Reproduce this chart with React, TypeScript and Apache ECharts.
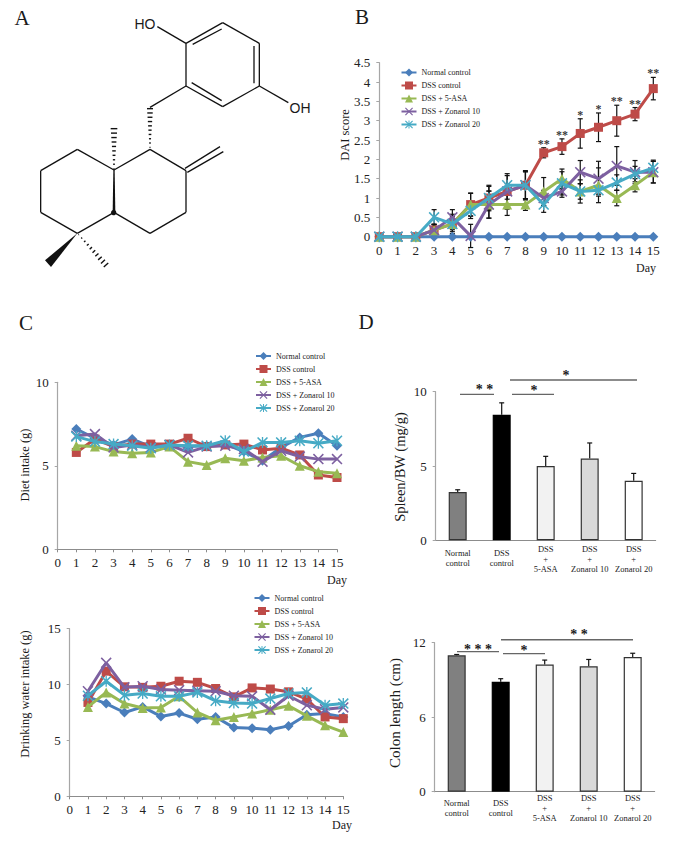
import React, { useEffect, useRef } from "react";
import * as echarts from "echarts";

const groups = ["Normal control", "DSS control", "DSS + 5-ASA", "DSS + Zonarol 10", "DSS + Zonarol 20"];
const daysB = [0, 1, 2, 3, 4, 5, 6, 7, 8, 9, 10, 11, 12, 13, 14, 15];
const daysIntake = [1, 2, 3, 4, 5, 6, 7, 8, 9, 10, 11, 12, 13, 14, 15];

// Panel B: DAI score
const daiNormal = [0, 0, 0, 0, 0, 0, 0, 0, 0, 0, 0, 0, 0, 0, 0, 0];
const daiDss = [0, 0, 0, 0.17, 0.33, 0.83, 1.0, 1.17, 1.33, 2.17, 2.33, 2.67, 2.83, 3.0, 3.17, 3.83];
const daiAsa = [0, 0, 0, 0.17, 0.33, 0.83, 0.83, 0.83, 0.83, 1.17, 1.5, 1.17, 1.33, 1.0, 1.33, 1.67];
const daiZ10 = [0, 0, 0, 0.17, 0.5, 0.02, 0.83, 1.17, 1.33, 1.0, 1.17, 1.67, 1.5, 1.83, 1.67, 1.67];
const daiZ20 = [0, 0, 0, 0.5, 0.33, 0.67, 1.0, 1.33, 1.33, 0.83, 1.38, 1.17, 1.2, 1.4, 1.62, 1.78];
const daiDssErr = [0, 0, 0, 0.15, 0.25, 0.29, 0.33, 0.46, 0.38, 0.13, 0.2, 0.38, 0.37, 0.4, 0.17, 0.29];
const daiAsaErr = [0, 0, 0, 0.15, 0.2, 0.3, 0.35, 0.28, 0.15, 0.36, 0.25, 0.3, 0.45, 0.2, 0.17, 0.28];
const daiZ10Err = [0, 0, 0, 0.15, 0.2, 0.3, 0.35, 0.2, 0.35, 0.2, 0.15, 0.3, 0.45, 0.5, 0.3, 0.28];
const daiZ20Err = [0, 0, 0, 0.2, 0.15, 0.2, 0.3, 0.25, 0.35, 0.2, 0.3, 0.2, 0.1, 0.2, 0.2, 0.2];
const daiStarDays = [9, 10, 11, 12, 13, 14, 15];
const daiStarTops = [2.3, 2.53, 3.05, 3.2, 3.4, 3.33, 4.12];
const daiStarText = ["**", "**", "*", "*", "**", "**", "**"];

// Panel C top: diet intake
const dietNormal = [7.2, 6.65, 6.25, 6.6, 6.15, 6.25, 6.15, 6.2, 6.3, 5.85, 5.3, 6.1, 6.7, 6.95, 6.2];
const dietDss = [5.8, 6.6, 6.15, 6.3, 6.3, 6.3, 6.65, 6.15, 6.25, 6.3, 5.95, 6.05, 5.65, 4.45, 4.3];
const dietAsa = [6.2, 6.15, 5.85, 5.75, 5.8, 6.15, 5.25, 5.05, 5.45, 5.3, 5.5, 5.6, 5.0, 4.65, 4.55];
const dietZ10 = [6.8, 6.9, 6.1, 6.25, 6.1, 6.25, 5.8, 6.15, 6.2, 6.0, 5.25, 5.9, 5.55, 5.4, 5.4];
const dietZ20 = [6.75, 6.45, 6.3, 6.2, 6.05, 6.25, 6.2, 6.2, 6.5, 5.85, 6.4, 6.4, 6.5, 6.35, 6.5];

// Panel C bottom: drinking water intake
const waterNormal = [8.9, 8.3, 7.5, 8.0, 7.15, 7.45, 6.9, 7.1, 6.15, 6.1, 5.95, 6.3, 7.3, 7.4, 7.1];
const waterDss = [8.4, 11.2, 9.8, 9.75, 9.85, 10.3, 10.2, 9.65, 8.9, 9.7, 9.6, 9.35, 8.7, 7.1, 6.95];
const waterAsa = [8.0, 9.3, 8.3, 7.9, 7.95, 8.95, 7.5, 6.8, 7.1, 7.4, 7.75, 8.1, 7.2, 6.35, 5.75];
const waterZ10 = [9.4, 11.95, 9.75, 9.85, 9.55, 9.5, 9.45, 9.4, 9.0, 8.95, 7.75, 9.0, 8.15, 7.8, 7.95];
const waterZ20 = [9.0, 10.3, 9.05, 9.2, 8.95, 8.95, 9.3, 8.55, 8.35, 8.3, 8.75, 9.2, 9.3, 8.15, 8.3];

// Panel D
const barCategories = ["Normal\ncontrol", "DSS\ncontrol", "DSS\n+\n5-ASA", "DSS\n+\nZonarol 10", "DSS\n+\nZonarol 20"];
const spleen = [3.25, 8.45, 5.0, 5.5, 4.0];
const spleenTop = [3.4, 9.25, 5.65, 6.55, 4.5];
const colon = [10.98, 8.86, 10.25, 10.1, 10.85];
const colonTop = [11.05, 9.1, 10.6, 10.65, 11.15];

const lineColors = ["#4a7ebb", "#be4b48", "#98b954", "#7d60a0", "#46aac5"];
const barColors = ["#808080", "#000000", "#f2f2f2", "#d9d9d9", "#ffffff"];
const X_PATH = "path://M0 1L1 0L5 4L9 0L10 1L6 5L10 9L9 10L5 6L1 10L0 9L4 5Z";
const STAR_PATH = X_PATH + "M4.4 0H5.6V10H4.4Z";
const symbols = ["diamond", "rect", "triangle", X_PATH, STAR_PATH];
const symbolSizes = [10, 9, 10, 11, 11];
const SERIF = "'Liberation Serif', 'Times New Roman', serif";
const AXIS = "#8c8c8c";

function lineSeries(grid: number, xs: number[], sets: number[][]) {
  return sets.map((vals, i) => ({
    type: "line",
    name: groups[i],
    xAxisIndex: grid,
    yAxisIndex: grid,
    data: xs.map((x, k) => [x, vals[k]]),
    symbol: symbols[i],
    symbolSize: symbolSizes[i],
    clip: false,
    z: 3 + i,
    silent: true,
    lineStyle: { width: 3, color: lineColors[i] },
    itemStyle: { color: lineColors[i] },
  }));
}

function errorSeries(grid: number, rows: number[][], both: boolean, cap: number) {
  return {
    type: "custom",
    xAxisIndex: grid,
    yAxisIndex: grid,
    data: rows,
    z: 2,
    silent: true,
    clip: false,
    encode: { x: 0, y: [1, 2] },
    renderItem: (_: any, api: any) => {
      const x = api.value(0);
      const top = api.coord([x, api.value(2)]);
      const low = api.coord([x, api.value(1)]);
      const st = { stroke: "#111", lineWidth: 1.2 };
      const kids: any[] = [
        { type: "line", shape: { x1: top[0], y1: top[1], x2: low[0], y2: low[1] }, style: st },
        { type: "line", shape: { x1: top[0] - cap, y1: top[1], x2: top[0] + cap, y2: top[1] }, style: st },
      ];
      if (both) kids.push({ type: "line", shape: { x1: low[0] - cap, y1: low[1], x2: low[0] + cap, y2: low[1] }, style: st });
      return { type: "group", children: kids };
    },
  };
}

function legendAt(left: number, top: number) {
  return {
    data: groups,
    orient: "vertical",
    left,
    top,
    itemWidth: 15,
    itemHeight: 10,
    itemGap: 5,
    padding: 0,
    selectedMode: false,
    textStyle: { fontFamily: SERIF, fontSize: 8, color: "#222" },
  };
}

function valueX(grid: number) {
  return {
    type: "value",
    gridIndex: grid,
    min: 0,
    max: 15,
    interval: 1,
    splitLine: { show: false },
    axisLine: { lineStyle: { color: AXIS, width: 1 } },
    axisTick: { length: 3, lineStyle: { color: AXIS } },
    axisLabel: { fontFamily: SERIF, fontSize: 13, color: "#222", margin: 7 },
  };
}

function valueY(grid: number, max: number, interval: number, fontSize = 13) {
  return {
    type: "value",
    gridIndex: grid,
    min: 0,
    max,
    interval,
    splitLine: { show: false },
    axisLine: { show: true, lineStyle: { color: "#a6a6a6", width: 1.2 } },
    axisTick: { show: true, length: 3, lineStyle: { color: "#a6a6a6" } },
    axisLabel: { fontFamily: SERIF, fontSize, color: "#222", margin: 9 },
  };
}

function catX(grid: number, margin: number, extraTop: number) {
  return {
    type: "category",
    gridIndex: grid,
    data: barCategories.map((c) => (c.includes("+") ? c : { value: c, textStyle: { padding: [extraTop, 0, 0, 0] } })),
    axisLine: { lineStyle: { color: AXIS, width: 1 } },
    axisTick: { show: false },
    axisLabel: { interval: 0, fontFamily: SERIF, fontSize: 8.5, lineHeight: 10, color: "#222", margin },
  };
}

function barSeries(grid: number, vals: number[]) {
  return {
    type: "bar",
    xAxisIndex: grid,
    yAxisIndex: grid,
    barWidth: 18,
    silent: true,
    z: 3,
    data: vals.map((v, i) => ({
      value: v,
      itemStyle: { color: barColors[i], borderColor: i === 1 ? "#000" : "#333", borderWidth: 1.2 },
    })),
  };
}

const Z = (v: number) => v / 3;

function seg(x1: number, y1: number, x2: number, y2: number, w = 1.3, stroke = "#111") {
  return {
    type: "line",
    silent: true,
    shape: { x1: Z(x1), y1: Z(y1), x2: Z(x2), y2: Z(y2) },
    style: { stroke, lineWidth: w },
  };
}

function hashWedge(x1: number, y1: number, x2: number, y2: number, w1: number, w2: number, n: number) {
  const dx = x2 - x1;
  const dy = y2 - y1;
  const len = Math.hypot(dx, dy);
  const nx = -dy / len;
  const ny = dx / len;
  const out: any[] = [];
  for (let i = 0; i < n; i++) {
    const t = i / (n - 1);
    const cx = x1 + dx * t;
    const cy = y1 + dy * t;
    const w = (w1 + (w2 - w1) * t) / 2;
    out.push(seg(cx - nx * w, cy - ny * w, cx + nx * w, cy + ny * w, 1.4));
  }
  return out;
}

function poly(points: number[][]) {
  return {
    type: "polygon",
    silent: true,
    shape: { points: points.map((p) => [Z(p[0]), Z(p[1])]) },
    style: { fill: "#111" },
  };
}

function label(text: string, x: number, y: number, fontSize: number, rotation = 0, family = SERIF, weight = "normal") {
  return {
    type: "text",
    silent: true,
    x,
    y,
    rotation,
    style: { text, fontFamily: family, fontSize, fontWeight: weight, fill: "#1a1a1a", align: "center", verticalAlign: "middle" },
  };
}

function molecule() {
  const bonds = [
    [558, 130, 668, 68], [668, 68, 778, 130], [778, 130, 778, 258], [778, 258, 668, 320], [668, 320, 558, 258], [558, 258, 558, 130],
    [578, 133, 665, 87], [762, 138, 762, 250], [575, 248, 665, 302],
    [472, 80, 558, 130], [778, 258, 865, 308], [558, 258, 450, 322],
    [342, 510, 232, 448], [232, 448, 122, 512], [122, 512, 122, 637], [122, 637, 232, 700], [232, 700, 342, 637],
    [342, 510, 450, 448], [450, 448, 558, 512], [558, 512, 558, 637], [558, 637, 450, 700], [450, 700, 342, 637],
    [555, 505, 660, 440], [562, 517, 670, 455],
  ];
  return [
    ...bonds.map((b) => seg(b[0], b[1], b[2], b[3])),
    poly([[340, 510], [344, 510], [346, 637], [338, 637]]),
    { type: "circle", silent: true, shape: { cx: Z(341), cy: Z(638), r: Z(8) }, style: { fill: "#111" } },
    poly([[232, 700], [135, 781], [153, 801]]),
    ...hashWedge(342, 506, 342, 386, 3, 20, 10),
    ...hashWedge(450, 442, 450, 326, 3, 18, 10),
    ...hashWedge(236, 704, 318, 795, 2, 18, 10),
    label("HO", Z(435), Z(71), 14, 0, "'Liberation Sans', Arial, sans-serif"),
    label("OH", Z(900), Z(324), 14, 0, "'Liberation Sans', Arial, sans-serif"),
  ];
}

function sigBar(x1: number, x2: number, y: number, w = 1.3) {
  return { type: "line", silent: true, shape: { x1, y1: y, x2, y2: y }, style: { stroke: "#666", lineWidth: w } };
}

export default function App() {
  const ref = useRef<HTMLDivElement>(null);
  useEffect(() => {
    document.body.style.margin = "0";
    const chart = echarts.init(ref.current!, undefined, { renderer: "svg" });
    chart.setOption({
      animation: false,
      backgroundColor: "#ffffff",
      legend: [legendAt(400.5, 68.5), legendAt(255, 352), legendAt(253.5, 594)],
      grid: [
        { left: 379.3, top: 62.7, width: 274, height: 174 },
        { left: 57.7, top: 382.3, width: 279.3, height: 167 },
        { left: 69.7, top: 628.7, width: 273.6, height: 167.6 },
        { left: 435.7, top: 391.7, width: 220, height: 148.6 },
        { left: 434.7, top: 642.7, width: 220, height: 149 },
      ],
      xAxis: [valueX(0), valueX(1), valueX(2), catX(3, 4, 4), catX(4, 1, 5)],
      yAxis: [valueY(0, 4.5, 0.5), valueY(1, 10, 5), valueY(2, 15, 5), valueY(3, 10, 5), valueY(4, 12, 6)],
      series: [
        errorSeries(0, daysB.map((d, i) => [d, daiDss[i] - daiDssErr[i], daiDss[i] + daiDssErr[i]]), true, 2.5),
        errorSeries(0, daysB.map((d, i) => [d, daiAsa[i] - daiAsaErr[i], daiAsa[i] + daiAsaErr[i]]), true, 2.5),
        errorSeries(0, daysB.map((d, i) => [d, daiZ10[i] - daiZ10Err[i], daiZ10[i] + daiZ10Err[i]]), true, 2.5),
        errorSeries(0, daysB.map((d, i) => [d, daiZ20[i] - daiZ20Err[i], daiZ20[i] + daiZ20Err[i]]), true, 2.5),
        ...lineSeries(0, daysB, [daiNormal, daiDss, daiAsa, daiZ10, daiZ20]),
        {
          type: "scatter",
          xAxisIndex: 0,
          yAxisIndex: 0,
          symbolSize: 0,
          silent: true,
          z: 9,
          data: daiStarDays.map((d, i) => ({
            value: [d, daiStarTops[i]],
            label: { show: true, position: "top", distance: -2, formatter: daiStarText[i], fontFamily: SERIF, fontSize: 12, fontWeight: "bold", color: "#000" },
          })),
        },
        ...lineSeries(1, daysIntake, [dietNormal, dietDss, dietAsa, dietZ10, dietZ20]),
        ...lineSeries(2, daysIntake, [waterNormal, waterDss, waterAsa, waterZ10, waterZ20]),
        errorSeries(3, spleen.map((v, i) => [i, v, spleenTop[i]]), false, 2.5),
        barSeries(3, spleen),
        errorSeries(4, colon.map((v, i) => [i, v, colonTop[i]]), false, 2.5),
        barSeries(4, colon),
      ],
      graphic: [
        {
          type: "group",
          silent: true,
          children: [
            label("A", 22, 18, 21),
            label("B", 362, 17, 21),
            label("C", 26, 323, 21),
            label("D", 366, 322, 21),
            label("DAI score", 345, 135, 12.5, Math.PI / 2),
            label("Diet intake (g)", 25, 465, 12.5, Math.PI / 2),
            label("Drinking water intake (g)", 25, 694, 12.5, Math.PI / 2),
            label("Spleen/BW (mg/g)", 400, 467, 14.5, Math.PI / 2),
            label("Colon length (cm)", 395, 713, 15, Math.PI / 2),
            label("Day", 646, 268, 12),
            label("Day", 337, 580, 12),
            label("Day", 342, 825, 12),
            sigBar(460, 494, 394.3),
            sigBar(512, 554, 394.3),
            sigBar(510, 637, 380),
            sigBar(457, 499, 651.7),
            sigBar(503, 545, 653.7),
            sigBar(501, 633, 639.7, 1.6),
            label("* *", 484.5, 389, 14, 0, SERIF, "bold"),
            label("*", 534, 390, 14, 0, SERIF, "bold"),
            label("*", 566, 375, 14, 0, SERIF, "bold"),
            label("* * *", 478, 649, 14, 0, SERIF, "bold"),
            label("*", 524, 650, 14, 0, SERIF, "bold"),
            label("* *", 579, 634, 14, 0, SERIF, "bold"),
            ...molecule(),
          ],
        },
      ],
    });
    return () => chart.dispose();
  }, []);
  return <div ref={ref} style={{ position: "fixed", left: 0, top: 0, width: 683, height: 844, background: "#fff" }} />;
}
